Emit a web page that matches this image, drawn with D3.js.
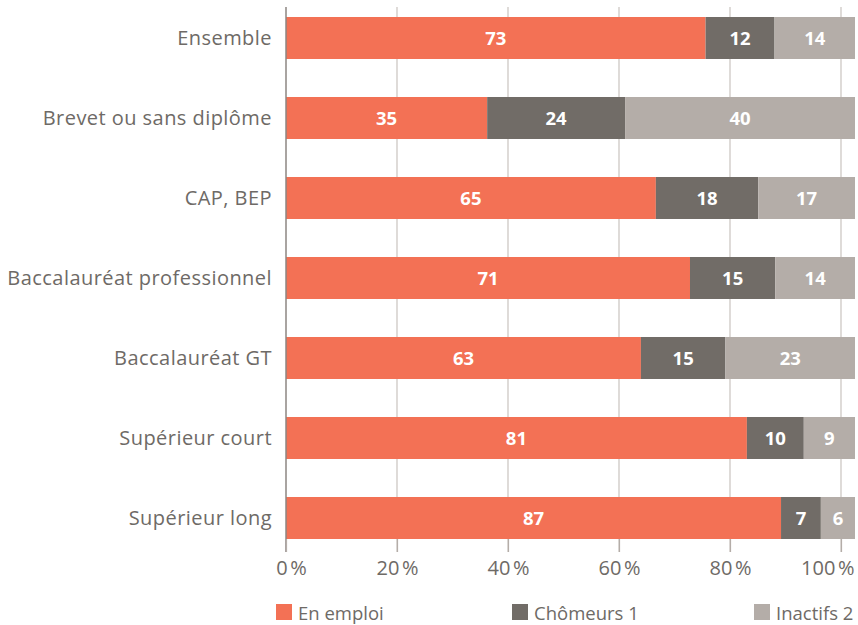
<!DOCTYPE html>
<html>
<head>
<meta charset="utf-8">
<script src="https://cdn.jsdelivr.net/npm/d3@7"></script>
<style>
  html, body { margin: 0; padding: 0; background: #fff; }
  svg { display: block; font-family: "Open Sans", sans-serif; }
</style>
</head>
<body>
<svg id="chart" width="858" height="625"></svg>
<script>
const categories = ["Ensemble", "Brevet ou sans diplôme", "CAP, BEP", "Baccalauréat professionnel", "Baccalauréat GT", "Supérieur court", "Supérieur long"];
const enEmploi = [73, 35, 65, 71, 63, 81, 87];
const chomeurs = [12, 24, 18, 15, 15, 10, 7];
const inactifs = [14, 40, 17, 14, 23, 9, 6];
const seriesNames = ["En emploi", "Chômeurs 1", "Inactifs 2"];
const seriesColors = ["#f37155", "#716c67", "#b4ada8"];
const tickValues = [0, 20, 40, 60, 80, 100];

(function () {
const svg = d3.select("#chart");
const plotLeft = 286, axisRight = 841, barRight = 855;
const plotTop = 7, plotBottom = 539;

const x = d3.scaleLinear().domain([0, 100]).range([plotLeft, axisRight]);
// bars at 17 + i*80, height 42
const yb = d3.scaleBand().domain(categories).range([-2, 558]).paddingInner(38 / 80).paddingOuter(38 / 80 / 2);

// gridlines
svg.append("g").selectAll("line").data(tickValues.slice(1)).join("line")
  .attr("x1", d => x(d)).attr("x2", d => x(d))
  .attr("y1", plotTop).attr("y2", 552)
  .attr("stroke", "#c9c3bf").attr("stroke-width", 1.2);

// bars
const rows = categories.map((c, i) => {
  const vals = [enEmploi[i], chomeurs[i], inactifs[i]];
  const total = d3.sum(vals);
  const xs = d3.scaleLinear().domain([0, total]).range([plotLeft, barRight]);
  let acc = 0;
  return vals.map((v, k) => {
    const seg = { cat: c, k, v, x0: xs(acc), x1: xs(acc + v) };
    acc += v;
    return seg;
  });
}).flat();

const bars = svg.append("g");
bars.selectAll("rect").data(rows).join("rect")
  .attr("x", d => d.x0)
  .attr("width", d => d.x1 - d.x0)
  .attr("y", d => yb(d.cat))
  .attr("height", yb.bandwidth())
  .attr("fill", d => seriesColors[d.k]);

bars.selectAll("text").data(rows).join("text")
  .attr("x", d => (d.x0 + d.x1) / 2)
  .attr("y", d => yb(d.cat) + yb.bandwidth() / 2 + 1)
  .attr("dy", "0.35em")
  .attr("text-anchor", "middle")
  .attr("fill", "#fff")
  .attr("font-weight", 700)
  .attr("font-size", 18.5)
  .text(d => d.v);

// y axis line
svg.append("line")
  .attr("x1", plotLeft).attr("x2", plotLeft)
  .attr("y1", plotTop).attr("y2", 552)
  .attr("stroke", "#8c8682").attr("stroke-width", 1.5);

// category labels
svg.append("g").selectAll("text").data(categories).join("text")
  .attr("x", 272)
  .attr("y", d => yb(d) + yb.bandwidth() / 2)
  .attr("dy", "0.35em")
  .attr("text-anchor", "end")
  .attr("fill", "#6e6a66")
  .attr("font-size", 20)
  .attr("letter-spacing", 0.45)
  .text(d => d);

// x axis ticks
const xAxis = svg.append("g").attr("transform", `translate(0,${plotBottom})`)
  .call(d3.axisBottom(x).tickValues(tickValues).tickSize(13).tickFormat(d => d + "\u202F%"));
xAxis.select(".domain").remove();
xAxis.selectAll(".tick line").attr("stroke", "#b4ada8").attr("stroke-width", 1.2);
xAxis.selectAll(".tick text")
  .attr("fill", "#6e6a66")
  .attr("font-size", 20)
  .attr("font-family", "Open Sans, sans-serif")
  .attr("y", 22);
xAxis.selectAll(".tick").filter(d => d === 100).select("text").attr("text-anchor", "end").attr("dx", 13);
xAxis.selectAll(".tick").filter(d => d === 0).select("text").attr("dx", 5);

// legend
const legendX = [276, 512, 754];
const lg = svg.append("g").selectAll("g").data(seriesNames).join("g")
  .attr("transform", (d, i) => `translate(${legendX[i]},604)`);
lg.append("rect").attr("width", 16).attr("height", 16).attr("fill", (d, i) => seriesColors[i]);
lg.append("text").attr("x", 22).attr("y", 15.5)
  .attr("fill", "#6e6a66").attr("font-size", 18.5).text(d => d);
})();
</script>
</body>
</html>
